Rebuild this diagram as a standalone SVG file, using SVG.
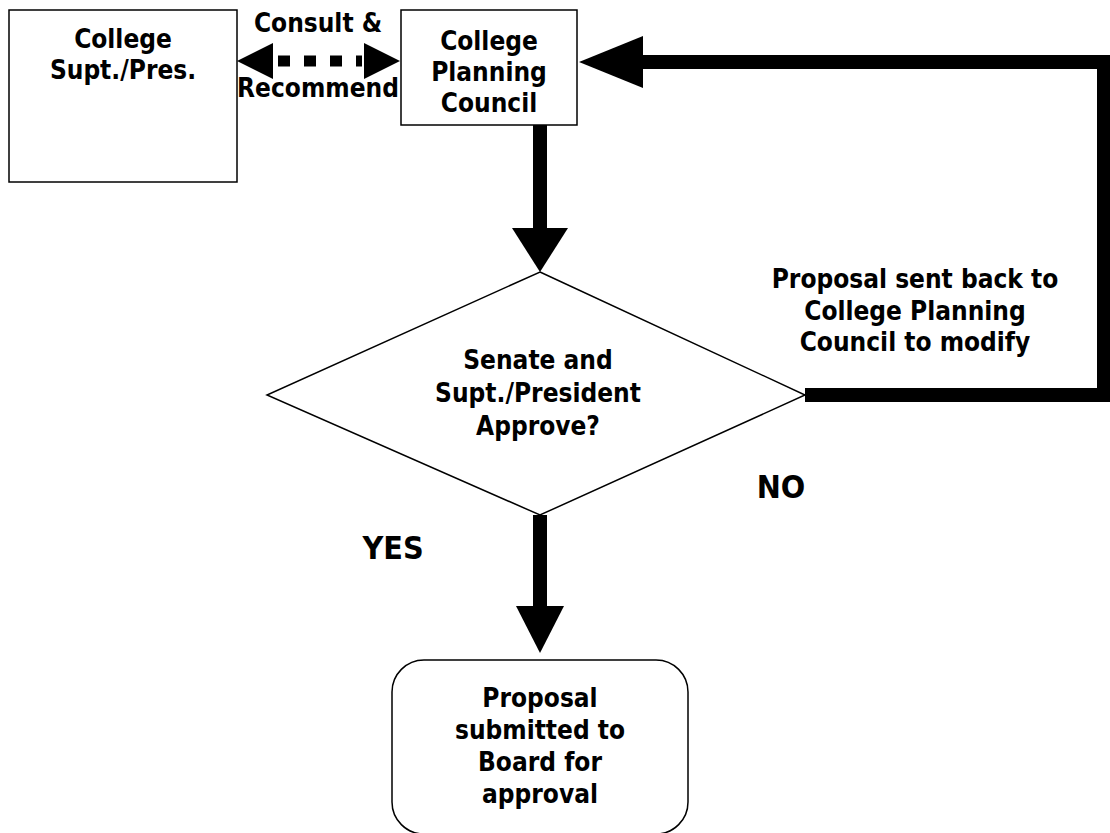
<svg xmlns="http://www.w3.org/2000/svg" width="1110" height="833" viewBox="0 0 1110 833">
<style>
.box{fill:#fff;stroke:#000;stroke-width:1.5}
.t{font-family:"DejaVu Sans Condensed","DejaVu Sans",sans-serif;font-weight:bold;font-stretch:condensed;font-size:26px;fill:#000;text-anchor:middle}
.big{font-size:32px}
.thick{fill:none;stroke:#000;stroke-width:14}
.head{fill:#000}
</style>
<rect width="1110" height="833" fill="#fff"/>
<g id="supt">
<rect class="box" x="9" y="10" width="228" height="172"/>
<text class="t" x="123" y="48">College</text>
<text class="t" x="123" y="79">Supt./Pres.</text>
</g>
<g id="cpc">
<rect class="box" x="401" y="10" width="176" height="115"/>
<text class="t" x="489" y="50">College</text>
<text class="t" x="489" y="81">Planning</text>
<text class="t" x="489" y="112">Council</text>
</g>
<g id="decision">
<polygon class="box" points="540,272 805,395 540,515 267,395"/>
<text class="t" x="538" y="369">Senate and</text>
<text class="t" x="538" y="402">Supt./President</text>
<text class="t" x="538" y="435">Approve?</text>
</g>
<g id="board">
<rect class="box" x="392" y="660" width="296" height="174" rx="32"/>
<text class="t" x="540" y="707">Proposal</text>
<text class="t" x="540" y="739">submitted to</text>
<text class="t" x="540" y="771">Board for</text>
<text class="t" x="540" y="803">approval</text>
</g>
<g id="connectors">
<line x1="278" y1="61" x2="362" y2="61" stroke="#000" stroke-width="11" stroke-dasharray="12 14"/>
<polygon class="head" points="237,61 273,43 273,79"/>
<polygon class="head" points="400,61 364,43 364,79"/>
<line class="thick" x1="540" y1="125" x2="540" y2="228"/>
<polygon class="head" points="540,272 512,228 568,228"/>
<line class="thick" x1="540" y1="515" x2="540" y2="608"/>
<polygon class="head" points="540,653 516,606 564,606"/>
<polyline class="thick" points="805,395 1104,395 1104,62 640,62"/>
<polygon class="head" points="579,62 643,36 643,88"/>
</g>
<g id="labels">
<text class="t" x="318" y="32">Consult &amp;</text>
<text class="t" x="318" y="97">Recommend</text>
<text class="t" x="915" y="288">Proposal sent back to</text>
<text class="t" x="915" y="320">College Planning</text>
<text class="t" x="915" y="351">Council to modify</text>
<text class="t big" x="781" y="498">NO</text>
<text class="t big" x="393" y="559">YES</text>
</g>
</svg>
